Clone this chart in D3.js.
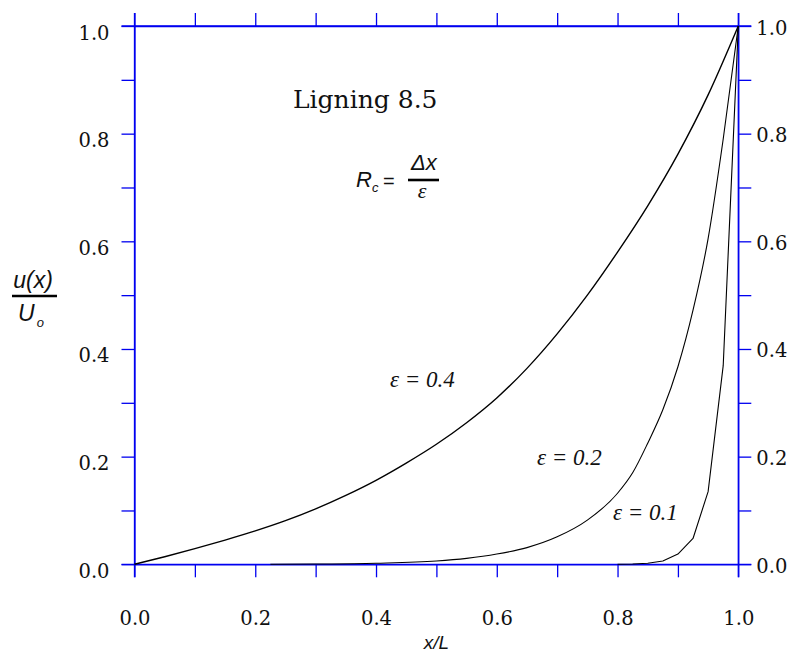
<!DOCTYPE html>
<html><head><meta charset="utf-8">
<script src="https://cdn.jsdelivr.net/npm/d3@7"></script>
<style>body{margin:0;background:#fff}</style>
</head><body>
<svg id="c" width="792" height="653"></svg>
<script>
// ---- data ----
const eps04X = [0,0.05,0.1,0.15,0.2,0.25,0.3,0.35,0.4,0.45,0.5,0.55,0.6,0.65,0.7,0.75,0.8,0.85,0.9,0.95,1.0];
const eps04U = [0,0.014,0.029,0.045,0.062,0.081,0.103,0.128,0.156,0.188,0.223,0.263,0.309,0.364,0.428,0.500,0.580,0.666,0.762,0.872,1.0];
const eps02X = [0.225,0.3,0.4,0.5,0.55,0.6,0.65,0.7,0.75,0.8,0.825,0.85,0.875,0.9,0.925,0.95,0.975,1.0];
const eps02U = [0,0.0005,0.002,0.006,0.011,0.019,0.031,0.051,0.082,0.132,0.170,0.225,0.287,0.367,0.472,0.605,0.790,1.0];
const eps01X = [0.8,0.825,0.85,0.875,0.9,0.925,0.95,0.975,1.0];
const eps01U = [0,0.0005,0.002,0.006,0.019,0.048,0.135,0.369,1.0];
const xTicks = [0,0.1,0.2,0.3,0.4,0.5,0.6,0.7,0.8,0.9,1.0];
const yTicks = [0,0.1,0.2,0.3,0.4,0.5,0.6,0.7,0.8,0.9,1.0];
const labelTicks = [0,0.2,0.4,0.6,0.8,1.0];
const curveLabels = ["ε = 0.4","ε = 0.2","ε = 0.1"];

const svg = d3.select("#c");
const L = 134.5, R = 738.3, T = 26, B = 564.3;
const x = d3.scaleLinear().domain([0,1]).range([L,R]);
const y = d3.scaleLinear().domain([0,1]).range([B,T]);
const blue = "#0000f0";
const serif = "'DejaVu Serif', serif";
const fmt = d => labelTicks.some(t => Math.abs(t-d)<1e-9) ? d3.format(".1f")(d) : "";

function styleAxis(g){
  g.attr("font-family",null).attr("font-size",null);
  g.selectAll("path.domain").attr("stroke",blue).attr("stroke-width",1.3);
  g.selectAll(".tick line").attr("stroke",blue).attr("stroke-width",1.3);
  g.selectAll(".tick text").attr("fill","#111").style("font-family",serif).style("font-size","19.5px");
}
// bottom
const gb = svg.append("g").attr("transform",`translate(0,${B})`)
  .call(d3.axisBottom(x).tickValues(xTicks).tickSize(13).tickSizeOuter(0).tickPadding(0).tickFormat(fmt));
styleAxis(gb); gb.selectAll(".tick text").attr("dy",null).attr("y",61);
// top
const gt = svg.append("g").attr("transform",`translate(0,${T})`)
  .call(d3.axisTop(x).tickValues(xTicks).tickSize(13).tickSizeOuter(0).tickFormat(""));
styleAxis(gt);
// left
const gl = svg.append("g").attr("transform",`translate(${L},0)`)
  .call(d3.axisLeft(y).tickValues(yTicks).tickSize(13).tickSizeOuter(0).tickPadding(12).tickFormat(fmt));
styleAxis(gl); gl.selectAll(".tick text").attr("dy",null).attr("y",13);
// right
const gr = svg.append("g").attr("transform",`translate(${R},0)`)
  .call(d3.axisRight(y).tickValues(yTicks).tickSize(13).tickSizeOuter(0).tickPadding(5).tickFormat(fmt));
styleAxis(gr); gr.selectAll(".tick text").attr("dy",null).attr("y",8);
// axis lines extended through corners
svg.append("line").attr("x1",L-13).attr("x2",R+13).attr("y1",T).attr("y2",T).attr("stroke",blue).attr("stroke-width",1.3);
svg.append("line").attr("x1",L-13).attr("x2",R+13).attr("y1",B).attr("y2",B).attr("stroke",blue).attr("stroke-width",1.3);
svg.append("line").attr("x1",L).attr("x2",L).attr("y1",T-13).attr("y2",B+13).attr("stroke",blue).attr("stroke-width",1.3);
svg.append("line").attr("x1",R).attr("x2",R).attr("y1",T-13).attr("y2",B+13).attr("stroke",blue).attr("stroke-width",1.3);

// curves
const smooth = d3.line().x(d=>x(d[0])).y(d=>y(d[1])).curve(d3.curveMonotoneX);
const straight = d3.line().x(d=>x(d[0])).y(d=>y(d[1]));
[[eps04X,eps04U,1.4,smooth],[eps02X,eps02U,1.1,smooth],[eps01X,eps01U,1.1,straight]].forEach(([xs,us,w,gen])=>{
  svg.append("path").datum(xs.map((v,i)=>[v,us[i]])).attr("d",gen)
    .attr("fill","none").attr("stroke","#000").attr("stroke-width",w).attr("stroke-linejoin","round");
});

// curve labels
const lbl = [[390,387],[537,465],[613,520]];
const tserif = "'Liberation Serif','Times New Roman',serif";
curveLabels.forEach((t,i)=>{
  svg.append("text").attr("x",lbl[i][0]).attr("y",lbl[i][1]).text(t)
    .style("font-family",tserif).style("font-style","italic").style("font-size","23px").attr("fill","#111");
});

// title
svg.append("text").attr("x",293).attr("y",108).text("Ligning 8.5")
  .style("font-family",serif).style("font-size","25px").attr("fill","#111");

// R_c = Δx/ε
const sans = "'Liberation Sans', Arial, sans-serif";
svg.append("text").attr("x",356).attr("y",187).style("font-family",sans).style("font-style","italic").style("font-size","22px").attr("fill","#111")
  .text("R").append("tspan").attr("dy",5).style("font-size","13px").text("c");
svg.append("text").attr("x",383).attr("y",188).style("font-family",sans).style("font-size","20px").attr("fill","#111").text("=");
svg.append("line").attr("x1",408).attr("x2",439).attr("y1",180).attr("y2",180).attr("stroke","#000").attr("stroke-width",2.6);
svg.append("text").attr("x",424).attr("y",170).attr("text-anchor","middle").style("font-family",sans).style("font-style","italic").style("font-size","22px").attr("fill","#111").text("Δx");
svg.append("text").attr("x",422).attr("y",198).attr("text-anchor","middle").style("font-family",tserif).style("font-style","italic").style("font-size","22px").attr("fill","#111").text("ε");

// y title: u(x)/U0
svg.append("text").attr("x",33).attr("y",288).attr("text-anchor","middle").style("font-family",sans).style("font-style","italic").style("font-size","23px").attr("fill","#111").text("u(x)");
svg.append("line").attr("x1",12).attr("x2",57).attr("y1",296).attr("y2",296).attr("stroke","#000").attr("stroke-width",2.6);
svg.append("text").attr("x",18).attr("y",321).style("font-family",sans).style("font-style","italic").style("font-size","23px").attr("fill","#111")
  .text("U").append("tspan").attr("dy",6).attr("dx",2).style("font-size","13px").text("o");

// x title
svg.append("text").attr("x",(L+R)/2).attr("y",649).attr("text-anchor","middle").style("font-family",sans).style("font-style","italic").style("font-size","19px").attr("fill","#111").text("x/L");
</script>
</body></html>
